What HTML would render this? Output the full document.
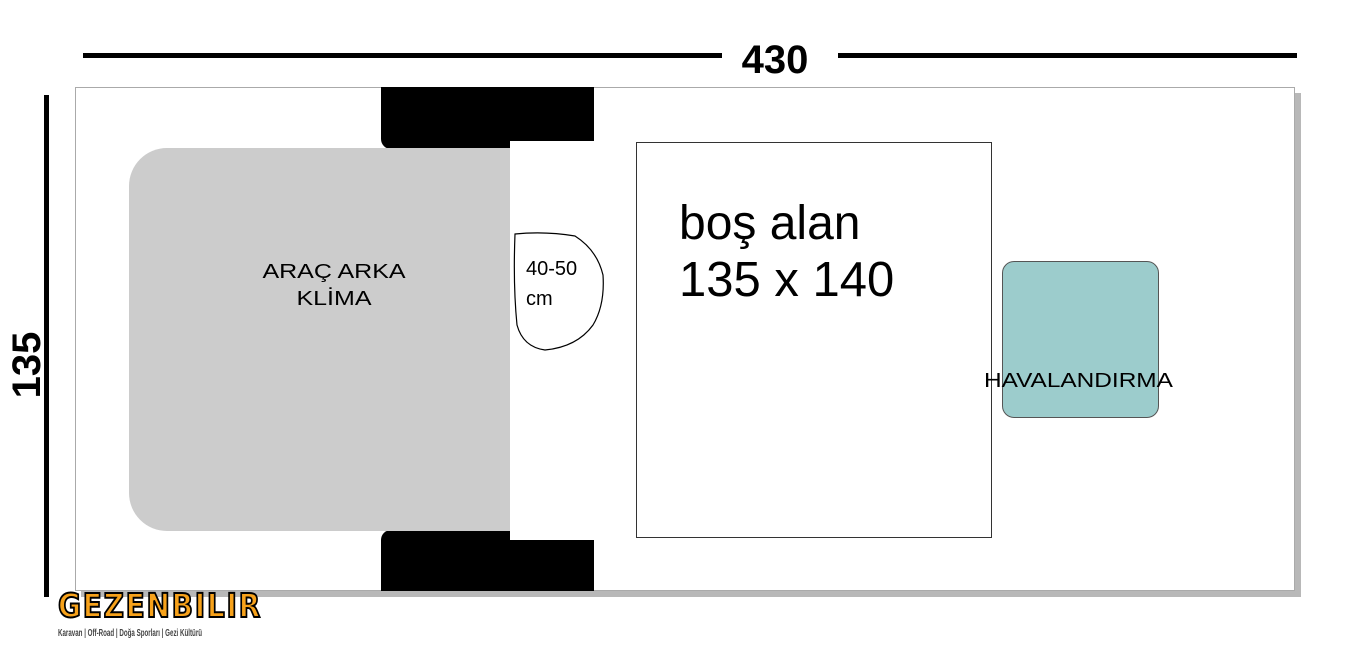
<!DOCTYPE html>
<html><head><meta charset="utf-8"><style>
body{margin:0;width:1346px;height:655px;background:#fff;position:relative;overflow:hidden;font-family:"Liberation Sans",sans-serif}
div{position:absolute;box-sizing:border-box}
</style></head><body>
<div style="left:83px;top:53px;width:639px;height:5px;background:#000"></div>
<div style="left:838px;top:53px;width:459px;height:5px;background:#000"></div>
<div style="left:722px;top:37px;width:106px;text-align:center;font-weight:bold;font-size:40px;line-height:46px">430</div>
<div style="left:-10px;top:342px;width:74px;height:46px;transform:rotate(-90deg);text-align:center;font-weight:bold;font-size:40px;line-height:46px">135</div>
<div style="left:44px;top:95px;width:5px;height:502px;background:#000"></div>
<div style="left:81px;top:93px;width:1220px;height:504px;background:#b8b8b8"></div>
<div style="left:75px;top:87px;width:1220px;height:504px;background:#fff;border:1px solid #aaa"></div>
<div style="left:381px;top:87px;width:213px;height:62px;background:#000;border-radius:0 0 0 10px"></div>
<div style="left:381px;top:530px;width:213px;height:61px;background:#000;border-radius:10px 0 0 0"></div>
<div style="left:129px;top:148px;width:400px;height:383px;background:#cccccc;border-radius:38px 0 0 38px"></div>
<div style="left:510px;top:141px;width:84px;height:399px;background:#fff"></div>
<div style="left:200px;top:259px;width:268px;text-align:center;font-size:20px;line-height:27px;transform:scaleX(1.25)">ARAÇ ARKA<br>KLİMA</div>
<svg style="position:absolute;left:505px;top:225px" width="110" height="130"><path d="M10 9 Q40 6 70 11 Q92 25 98 50 Q100 80 88 100 Q72 122 40 125 Q18 122 12 100 Q8 60 10 9 Z" fill="none" stroke="#000" stroke-width="1.2"/></svg>
<div style="left:526px;top:254px;font-size:20px;line-height:30px">40-50<br>cm</div>
<div style="left:636px;top:142px;width:356px;height:396px;border:1px solid #333;background:#fff"></div>
<div style="left:679px;top:196px;font-size:48px;line-height:56px">boş alan<br><span style="font-size:49px">135 x 140</span></div>
<div style="left:1002px;top:261px;width:157px;height:157px;background:#9ccccc;border:1px solid #555;border-radius:12px"></div>
<div style="left:984px;top:369px;font-size:20px;line-height:24px;transform:scaleX(1.22);transform-origin:left">HAVALANDIRMA</div>
<div style="left:58px;top:587px;font-size:33px;font-weight:bold;color:#f7a21b;letter-spacing:2px;-webkit-text-stroke:2px #000;font-family:'DejaVu Sans',sans-serif;line-height:38px;transform:scaleX(0.85);transform-origin:left">GEZENBILIR</div>
<div style="left:58px;top:627px;font-size:10px;color:#444;line-height:14px;font-weight:bold;transform:scaleX(0.62);transform-origin:left">Karavan | Off-Road | Doğa Sporları | Gezi Kültürü</div>
</body></html>
